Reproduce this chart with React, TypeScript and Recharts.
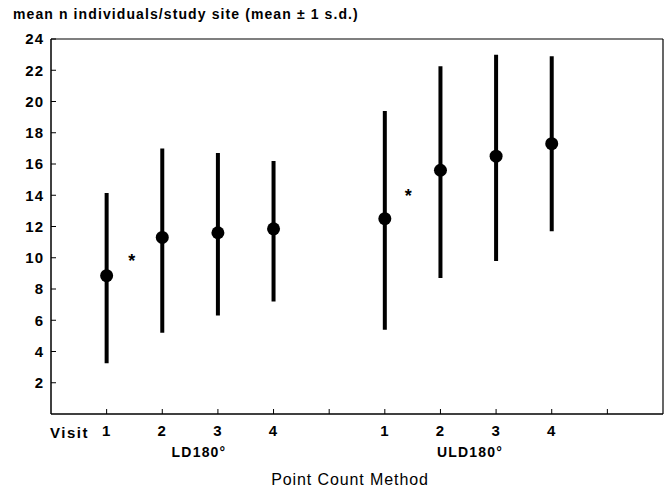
import {
  ScatterChart,
  Scatter,
  XAxis,
  YAxis,
  ErrorBar,
  ReferenceLine,
} from "recharts";

// x positions on the axis: LD180 visits at 1-4, ULD180 visits at 6-9
const positions = [1, 2, 3, 4, 6, 7, 8, 9];
const visitLabels = ["1", "2", "3", "4", "1", "2", "3", "4"];
const means = [8.85, 11.3, 11.6, 11.85, 12.5, 15.6, 16.5, 17.3];
const lowerEnds = [3.25, 5.2, 6.3, 7.2, 5.4, 8.7, 9.8, 11.7];
const upperEnds = [14.15, 17.0, 16.7, 16.2, 19.4, 22.25, 23.0, 22.9];

const starX = [1.45, 6.42];
const starY = [10.0, 14.15];

const xTicks = [1, 2, 3, 4, 5, 6, 7, 8, 9, 10];
const yTicks = [2, 4, 6, 8, 10, 12, 14, 16, 18, 20, 22, 24];

const FONT = "'Liberation Sans', Arial, sans-serif";

const data = positions.map((x, i) => ({
  x,
  y: means[i],
  err: [means[i] - lowerEnds[i], upperEnds[i] - means[i]],
}));

const stars = starX.map((x, i) => ({ x, y: starY[i] }));

const tickLabel = (v: number) => {
  const i = positions.indexOf(v);
  return i >= 0 ? visitLabels[i] : "";
};

const Dot = (props: any) => <circle cx={props.cx} cy={props.cy} r={6.5} fill="#000" />;

const Star = (props: any) => (
  <text
    x={props.cx}
    y={props.cy + 9}
    textAnchor="middle"
    fontFamily={FONT}
    fontWeight="bold"
    fontSize={18}
    fill="#000"
  >
    *
  </text>
);

const tickStyle = { fill: "#000", fontSize: 15, fontWeight: "bold", fontFamily: FONT, letterSpacing: 1 };

const textStyle = (x: number, y: number, extra: any = {}) => ({
  position: "absolute" as const,
  left: x,
  top: y,
  fontFamily: FONT,
  fontWeight: "bold" as const,
  fontSize: 14,
  color: "#000",
  whiteSpace: "nowrap" as const,
  lineHeight: 1,
  ...extra,
});

const App = () => {
  return (
    <div style={{ position: "absolute", left: 0, top: 0, width: 669, height: 488, background: "#fff" }}>
      <ScatterChart width={669} height={488} margin={{ top: 39, right: 6, bottom: 0, left: 6 }}>
        <XAxis
          type="number"
          dataKey="x"
          domain={[0, 11]}
          ticks={xTicks}
          tickFormatter={tickLabel}
          height={74}
          axisLine={{ stroke: "#000", strokeWidth: 1.5 }}
          tickLine={{ stroke: "#000" }}
          tickSize={-5}
          tickMargin={16}
          tick={tickStyle}
          allowDataOverflow
        />
        <YAxis
          type="number"
          dataKey="y"
          domain={[0, 24]}
          ticks={yTicks}
          width={45}
          axisLine={{ stroke: "#000", strokeWidth: 1.5 }}
          tickLine={{ stroke: "#000" }}
          tickSize={-5}
          tickMargin={12}
          tick={tickStyle}
          allowDataOverflow
        />
        <ReferenceLine y={24} stroke="#000" strokeWidth={1.2} />
        <ReferenceLine x={11} stroke="#000" strokeWidth={1.2} />
        <Scatter data={data} shape={<Dot />} isAnimationActive={false}>
          <ErrorBar dataKey="err" direction="y" width={0} strokeWidth={4} stroke="#000" isAnimationActive={false} />
        </Scatter>
        <Scatter data={stars} shape={<Star />} isAnimationActive={false} />
      </ScatterChart>
      <div style={textStyle(13, 7, { letterSpacing: 1.1 })}>mean n individuals/study site (mean ± 1 s.d.)</div>
      <div style={textStyle(50, 425, { fontSize: 15, letterSpacing: 1.5 })}>Visit</div>
      <div style={textStyle(199, 445, { transform: "translateX(-50%)", letterSpacing: 1.2 })}>LD180°</div>
      <div style={textStyle(470, 445, { transform: "translateX(-50%)", letterSpacing: 1.2 })}>ULD180°</div>
      <div
        style={textStyle(350, 472, {
          transform: "translateX(-50%)",
          fontWeight: "normal",
          fontSize: 16,
          letterSpacing: 0.9,
        })}
      >
        Point Count Method
      </div>
    </div>
  );
};

export default App;
